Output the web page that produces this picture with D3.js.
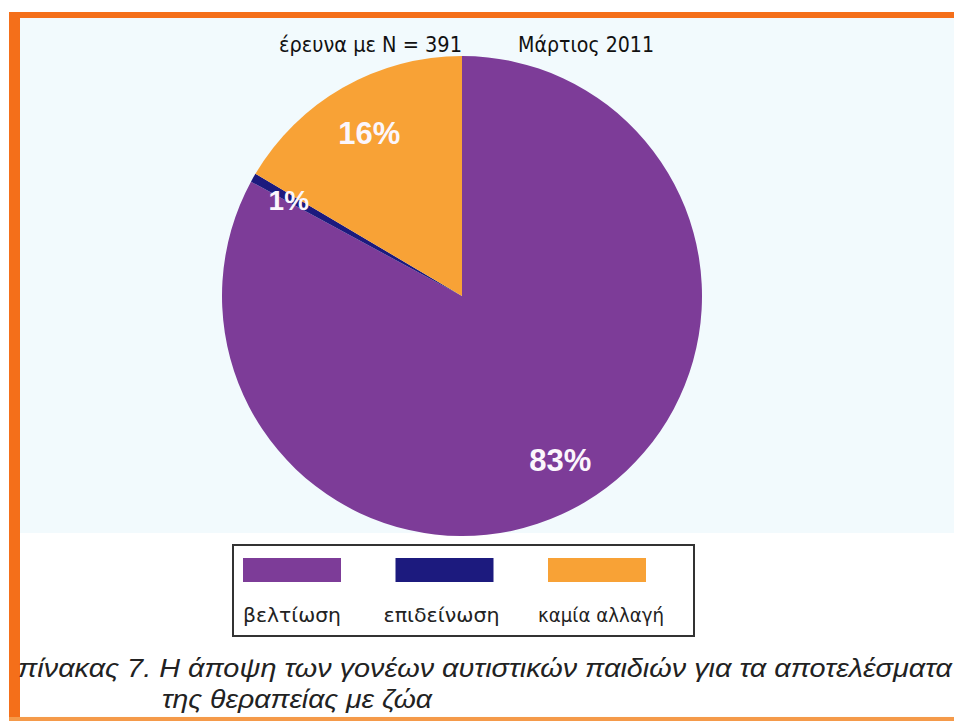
<!DOCTYPE html>
<html>
<head>
<meta charset="utf-8">
<script src="https://cdn.jsdelivr.net/npm/d3@7"></script>
<style>
html,body{margin:0;padding:0;background:#fff;}
svg{display:block;}
</style>
</head>
<body>
<svg id="chart" width="954" height="721"></svg>
<script>
// Data
const categories = ["βελτίωση", "επιδείνωση", "καμία αλλαγή"];
const values = [82.9, 0.6, 16.5];
const sliceLabels = ["83%", "1%", "16%"];
const colors = ["#7d3c98", "#1c1a7e", "#f8a236"];
const titleLeft = "έρευνα με N = 391";
const titleRight = "Μάρτιος 2011";
const captionLines = ["πίνακας 7. Η άποψη των γονέων αυτιστικών παιδιών για τα αποτελέσματα", "της θεραπείας με ζώα"];

const svg = d3.select("#chart");

// Frame / backgrounds
svg.append("rect").attr("x", 9).attr("y", 12).attr("width", 945).attr("height", 709).attr("fill", "#fffdf8");
svg.append("rect").attr("x", 20).attr("y", 18).attr("width", 934).attr("height", 515).attr("fill", "#f2fafd");
svg.append("rect").attr("x", 20).attr("y", 533).attr("width", 934).attr("height", 183).attr("fill", "#ffffff");
svg.append("rect").attr("x", 9).attr("y", 12).attr("width", 945).attr("height", 6).attr("fill", "#f46f1a");
svg.append("rect").attr("x", 9).attr("y", 12).attr("width", 11).attr("height", 709).attr("fill", "#f46f1a");
svg.append("rect").attr("x", 9).attr("y", 717).attr("width", 945).attr("height", 4).attr("fill", "#f59a4a");

// Title
const titleFont = "DejaVu Sans Condensed, DejaVu Sans, sans-serif";
svg.append("text").attr("x", 279).attr("y", 52)
  .attr("font-family", titleFont).attr("font-size", 21).attr("fill", "#111")
  .attr("textLength", 183).attr("lengthAdjust", "spacingAndGlyphs")
  .text(titleLeft);
svg.append("text").attr("x", 518).attr("y", 52)
  .attr("font-family", titleFont).attr("font-size", 21).attr("fill", "#111")
  .attr("textLength", 136).attr("lengthAdjust", "spacingAndGlyphs")
  .text(titleRight);

// Pie
const cx = 462, cy = 296, r = 240;
const pie = d3.pie().sort(null).value(d => d)(values);
const arc = d3.arc().innerRadius(0).outerRadius(r);
const g = svg.append("g").attr("transform", `translate(${cx},${cy})`);
g.selectAll("path").data(pie).join("path")
  .attr("d", arc)
  .attr("fill", (d, i) => colors[i]);

// Slice labels
const labelRadii = [0.80, 0.81, 0.78];
const fontSizes = [31, 28, 31];
g.selectAll("text.lbl").data(pie).join("text")
  .attr("class", "lbl")
  .attr("transform", (d, i) => {
    const c = d3.arc().innerRadius(r * labelRadii[i]).outerRadius(r * labelRadii[i]).centroid(d);
    return `translate(${c[0] + (i === 1 ? -4 : 0)},${c[1]})`;
  })
  .attr("text-anchor", "middle")
  .attr("dominant-baseline", "central")
  .attr("font-family", "Liberation Sans, Arial, sans-serif")
  .attr("font-weight", "bold")
  .attr("font-size", (d, i) => fontSizes[i])
  .attr("fill", "#fbf6fc")
  .text((d, i) => sliceLabels[i]);

// Legend
const lg = svg.append("g");
lg.append("rect").attr("x", 233).attr("y", 545).attr("width", 461).attr("height", 91)
  .attr("fill", "#ffffff").attr("stroke", "#333").attr("stroke-width", 2);
const swX = d3.scalePoint().domain(categories).range([292, 597]);
lg.selectAll("rect.sw").data(categories).join("rect")
  .attr("class", "sw")
  .attr("x", d => swX(d) - 49).attr("y", 558).attr("width", 98).attr("height", 24)
  .attr("fill", (d, i) => colors[i]);
const labelWidths = [98, 116, 126];
lg.selectAll("text.lt").data(categories).join("text")
  .attr("class", "lt")
  .attr("x", (d, i) => swX(d) + [0, -3, 4][i]).attr("y", 622)
  .attr("text-anchor", "middle")
  .attr("font-family", "DejaVu Sans, sans-serif")
  .attr("font-size", 20).attr("fill", "#222")
  .attr("textLength", (d, i) => labelWidths[i]).attr("lengthAdjust", "spacingAndGlyphs")
  .text(d => d);

// Caption
const capFont = "Liberation Sans Narrow, Liberation Sans, Arial, sans-serif";
svg.append("text").attr("x", 18).attr("y", 677)
  .attr("font-family", capFont)
  .attr("font-style", "italic").attr("font-size", 26).attr("fill", "#222")
  .attr("textLength", 934).attr("lengthAdjust", "spacingAndGlyphs")
  .text(captionLines[0]);
svg.append("text").attr("x", 162).attr("y", 708)
  .attr("font-family", capFont)
  .attr("font-style", "italic").attr("font-size", 26).attr("fill", "#222")
  .attr("textLength", 270).attr("lengthAdjust", "spacingAndGlyphs")
  .text(captionLines[1]);
</script>
</body>
</html>
